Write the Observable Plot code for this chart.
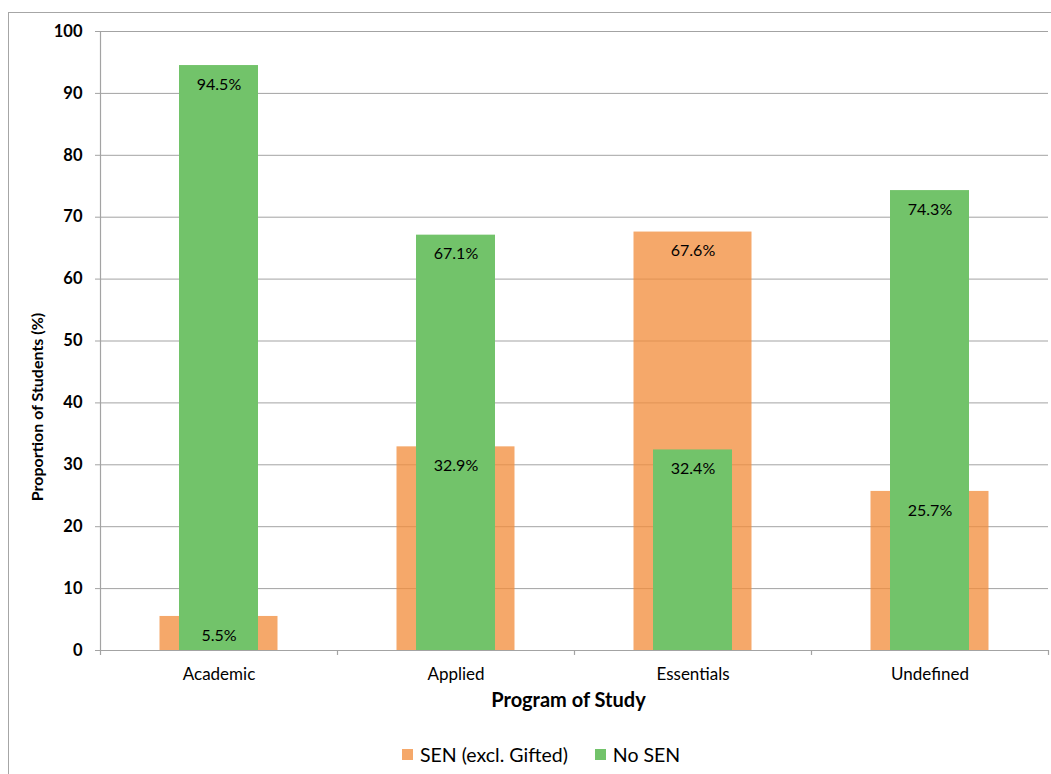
<!DOCTYPE html>
<html>
<head>
<meta charset="utf-8">
<script src="https://cdn.jsdelivr.net/npm/d3@7"></script>
<script src="https://cdn.jsdelivr.net/npm/@observablehq/plot@0.6"></script>
<style>
  html, body { margin: 0; padding: 0; background: #fff; }
  body { width: 1051px; height: 774px; position: relative; overflow: hidden; font-family: Lato, "Open Sans", sans-serif; }
  #frame { position: absolute; left: 8px; top: 12px; width: 1060px; height: 800px; border-left: 1.5px solid #a6a6a6; border-top: 1.5px solid #a6a6a6; box-sizing: border-box; }
  #chart { position: absolute; left: 0; top: 0; }
  #legend { position: absolute; left: 402px; top: 741px; height: 26px; display: flex; align-items: center; font-size: 19.5px; color: #000; white-space: nowrap; }
  #legend .sw { display: inline-block; width: 11px; height: 11px; margin-right: 7px; }
  #legend .item { display: flex; align-items: center; margin-right: 27px; }
</style>
</head>
<body>
<div id="frame"></div>
<div id="chart"></div>
<div id="legend"></div>
<script>
const programs = ["Academic", "Applied", "Essentials", "Undefined"];
const senValues = [5.5, 32.9, 67.6, 25.7];
const noSenValues = [94.5, 67.1, 32.4, 74.3];
const yTicks = [0, 10, 20, 30, 40, 50, 60, 70, 80, 90, 100];
const seriesNames = ["SEN (excl. Gifted)", "No SEN"];
const seriesColors = ["#f5a86a", "#72c36a"];

const rows = programs.map((p, i) => ({program: p, sen: senValues[i], nosen: noSenValues[i]}));
const gridColor = "#a3a3a3";
const step = 237;
const font = "Lato, 'Open Sans', sans-serif";

const chart = Plot.plot({
  width: 1051,
  height: 730,
  marginLeft: 100,
  marginRight: 3,
  marginTop: 31,
  marginBottom: 80,
  style: {fontFamily: font, background: "transparent"},
  x: {domain: programs, padding: 0, axis: null},
  y: {domain: [0, 100], axis: null},
  marks: [
    // gridlines
    Plot.ruleY(yTicks.filter(t => t > 0), {stroke: gridColor, strokeWidth: 1}),
    // orange (SEN) bars, slightly translucent so gridlines show through
    Plot.barY(rows, {x: "program", y: "sen", fill: "#f28d3b", fillOpacity: 0.76, insetLeft: 59.5, insetRight: 59.5}),
    // green (No SEN) bars
    Plot.barY(rows, {x: "program", y: "nosen", fill: seriesColors[1], insetLeft: 79, insetRight: 79}),
    // x axis line
    Plot.ruleY([0], {stroke: gridColor, strokeWidth: 1.2}),
    // y axis line + category boundary ticks
    Plot.ruleX(programs.slice(0, 1), {x: d => d, dx: -step / 2, y1: -0.8, y2: 100, stroke: gridColor, strokeWidth: 1.2}),
    Plot.ruleX(programs.slice(1), {x: d => d, dx: -step / 2, y1: -0.8, y2: 0, stroke: gridColor, strokeWidth: 1.2}),
    Plot.ruleX(programs.slice(-1), {x: d => d, dx: step / 2, y1: -0.8, y2: 0, stroke: gridColor, strokeWidth: 1.2}),
    // y axis
    Plot.axisY({ticks: yTicks, tickSize: 5, tickPadding: 13, tickFormat: d => String(d), fontSize: 16.5, fontWeight: "bold", stroke: gridColor, label: null}),
    // x axis labels
    Plot.axisX({tickSize: 0, tickPadding: 17, fontSize: 17, label: null}),
    // data labels
    Plot.text(rows, {x: "program", y: "sen", text: d => d.sen.toFixed(1) + "%", dy: 19, fontSize: 16, fill: "#000"}),
    Plot.text(rows, {x: "program", y: "nosen", text: d => d.nosen.toFixed(1) + "%", dy: 19, fontSize: 16, fill: "#000"}),
    // axis titles
    Plot.text(["Program of Study"], {frameAnchor: "bottom", dy: 56, dx: -6, fontSize: 20, fontWeight: "bold", fill: "#000"}),
    Plot.text(["Proportion of Students (%)"], {frameAnchor: "left", textAnchor: "middle", rotate: -90, dx: -63, dy: 66, fontSize: 16, fontWeight: "bold", fill: "#000"})
  ]
});
document.getElementById("chart").appendChild(chart);

const legend = document.getElementById("legend");
seriesNames.forEach((name, i) => {
  const item = document.createElement("span");
  item.className = "item";
  const sw = document.createElement("span");
  sw.className = "sw";
  sw.style.background = seriesColors[i];
  item.appendChild(sw);
  item.appendChild(document.createTextNode(name));
  legend.appendChild(item);
});
</script>
</body>
</html>
